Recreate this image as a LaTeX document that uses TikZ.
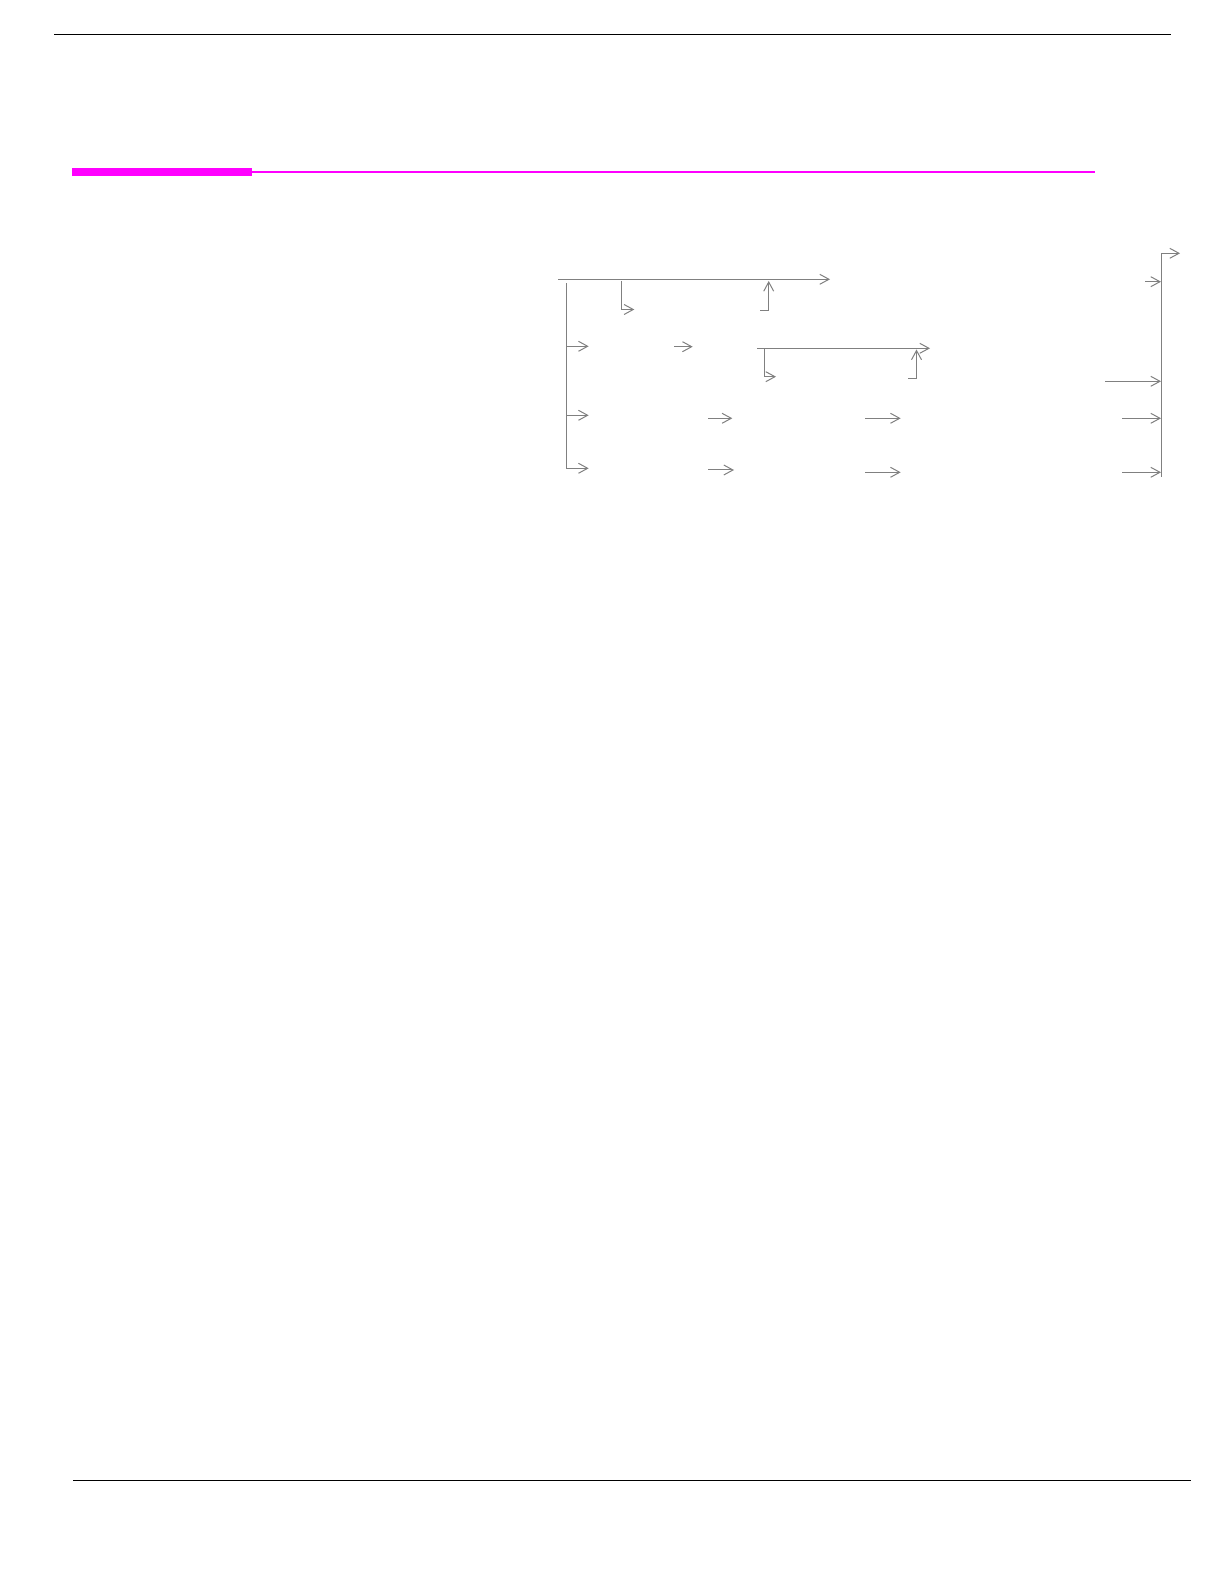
\documentclass[tikz,border=0pt]{standalone}
\usetikzlibrary{arrows.meta}
\definecolor{conngray}{RGB}{128,128,128}
\definecolor{rulemagenta}{RGB}{255,0,255}
\begin{document}
\begin{tikzpicture}[x=0.5pt,y=-0.5pt,
  connline/.style={draw=conngray, line width=0.5pt},
  arr/.style={connline, -{Straight Barb[length=4.6pt,width=5pt]}},
  blackrule/.style={draw=black, line width=0.7pt},
  barthick/.style={draw=rulemagenta, line width=4pt},
  barthin/.style={draw=rulemagenta, line width=1pt}]
\useasboundingbox (0,0) rectangle (1224,1582);
% page rules
\coordinate (topL) at (54,34.3);   \coordinate (topR) at (1170.7,34.3);
\coordinate (botL) at (73.3,1480.3); \coordinate (botR) at (1190.7,1480.3);
\coordinate (magA) at (72,171.7); \coordinate (magB) at (252,171.7); \coordinate (magC) at (1094.7,171.7);
\draw[blackrule] (topL) -- (topR);
\draw[blackrule] (botL) -- (botR);
\draw[barthick] (magA) -- (magB);
\draw[barthin] (magB) -- (magC);
% top flow line
\coordinate (t0) at (558,279.3); \coordinate (t1) at (830,279.3);
\draw[arr] (t0) -- (t1);
\coordinate (b1a) at (621.3,281); \coordinate (b1b) at (634.3,309.5);
\draw[arr] (b1a) |- (b1b);
\coordinate (u1a) at (760,311); \coordinate (u1b) at (768.7,281);
\draw[arr] (u1a) -| (u1b);
% main left vertical
\coordinate (v0) at (566.3,283.3); \coordinate (v1) at (566.3,468.3);
\draw[connline] (v0) -- (v1);
\coordinate (l2) at (566.3,346.3); \coordinate (l2t) at (588.7,346.3);
\coordinate (l3) at (566.3,415.3); \coordinate (l3t) at (588.7,415.3);
\coordinate (l4t) at (588.7,468.3);
\draw[arr] (l2) -- (l2t);
\draw[arr] (l3) -- (l3t);
\draw[arr] (v1) -- (l4t);
% row 2
\coordinate (r2a) at (674,346.7); \coordinate (r2b) at (692.7,346.7);
\draw[arr] (r2a) -- (r2b);
\coordinate (s0) at (757,348.3); \coordinate (s1) at (930,348.3);
\draw[arr] (s0) -- (s1);
\coordinate (b2a) at (764.3,348.3); \coordinate (b2b) at (776,376.7);
\draw[arr] (b2a) |- (b2b);
\coordinate (u2a) at (908,379); \coordinate (u2b) at (916.5,349.5);
\draw[arr] (u2a) -| (u2b);
% row 3
\coordinate (r3a) at (708,418.3); \coordinate (r3b) at (732.3,418.3);
\coordinate (r3c) at (865,418.3); \coordinate (r3d) at (900.7,418.3);
\coordinate (r3e) at (1122,418.3); \coordinate (r3f) at (1161,418.3);
\draw[arr] (r3a) -- (r3b);
\draw[arr] (r3c) -- (r3d);
\draw[arr] (r3e) -- (r3f);
% row 4
\coordinate (r4a) at (708,470); \coordinate (r4b) at (734,470);
\coordinate (r4c) at (865,472.3); \coordinate (r4d) at (900.7,472.3);
\coordinate (r4e) at (1122,472.3); \coordinate (r4f) at (1161,472.3);
\draw[arr] (r4a) -- (r4b);
\draw[arr] (r4c) -- (r4d);
\draw[arr] (r4e) -- (r4f);
% right collector
\coordinate (rv0) at (1161,476.7); \coordinate (rv1) at (1180,253.3);
\draw[arr] (rv0) |- (rv1);
\coordinate (ra1) at (1145.3,281.7); \coordinate (ra1t) at (1161,281.7);
\draw[arr] (ra1) -- (ra1t);
\coordinate (ra2) at (1105,381.3); \coordinate (ra2t) at (1161,381.3);
\draw[arr] (ra2) -- (ra2t);
\end{tikzpicture}
\end{document}
